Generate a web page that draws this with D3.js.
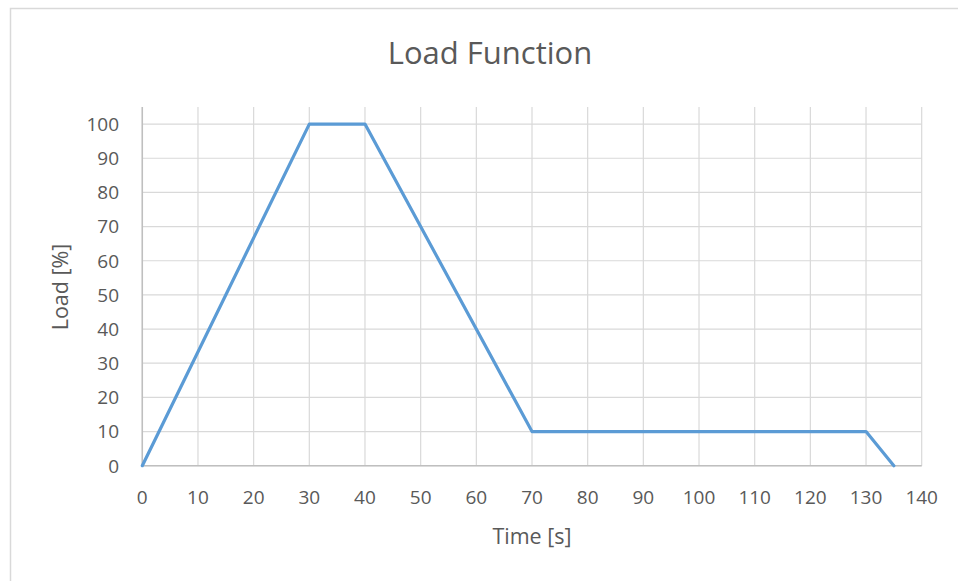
<!DOCTYPE html>
<html>
<head>
<meta charset="utf-8">
<script src="https://cdn.jsdelivr.net/npm/d3@7"></script>
<style>
  html, body { margin: 0; padding: 0; background: #fff; }
  svg text { font-family: "Open Sans", "Liberation Sans", sans-serif; fill: #595959; }
</style>
</head>
<body>
<svg id="chart" width="958" height="581"></svg>
<script>
const timeValues = [0, 30, 40, 70, 130, 135];
const loadValues = [0, 100, 100, 10, 10, 0];
const xTicks = [0, 10, 20, 30, 40, 50, 60, 70, 80, 90, 100, 110, 120, 130, 140];
const yTicks = [0, 10, 20, 30, 40, 50, 60, 70, 80, 90, 100];
const chartTitle = "Load Function";
const xTitle = "Time [s]";
const yTitle = "Load [%]";

const svg = d3.select("#chart");
svg.append("rect").attr("x", 10.5).attr("y", 8.5).attr("width", 1000).attr("height", 1000)
  .attr("fill", "#fff").attr("stroke", "#d9d9d9").attr("stroke-width", 1.5);

const x = d3.scaleLinear().domain([0, 140]).range([142.3, 921.7]);
const y = d3.scaleLinear().domain([0, 105]).range([465.7, 107]);

const g = svg.append("g");
g.selectAll(".vg").data(xTicks).enter().append("line")
  .attr("x1", d => x(d)).attr("x2", d => x(d))
  .attr("y1", y(0)).attr("y2", y(105))
  .attr("stroke", "#d9d9d9").attr("stroke-width", 1.2);
g.selectAll(".hg").data(yTicks).enter().append("line")
  .attr("x1", x(0)).attr("x2", x(140))
  .attr("y1", d => y(d)).attr("y2", d => y(d))
  .attr("stroke", "#d9d9d9").attr("stroke-width", 1.2);
g.append("line").attr("x1", x(0)).attr("x2", x(0)).attr("y1", y(0)).attr("y2", y(105))
  .attr("stroke", "#bfbfbf").attr("stroke-width", 1.5);
g.append("line").attr("x1", x(0)).attr("x2", x(140)).attr("y1", y(0)).attr("y2", y(0))
  .attr("stroke", "#bfbfbf").attr("stroke-width", 1.5);

g.selectAll(".yl").data(yTicks).enter().append("text")
  .attr("x", 119).attr("y", d => y(d)).attr("dy", "0.36em")
  .attr("text-anchor", "end").attr("font-size", 19).text(d => d);
g.selectAll(".xl").data(xTicks).enter().append("text")
  .attr("x", d => x(d)).attr("y", 497).attr("dy", "0.36em")
  .attr("text-anchor", "middle").attr("font-size", 19).text(d => d);

const line = d3.line().x((d, i) => x(timeValues[i])).y((d, i) => y(loadValues[i]));
g.append("path").datum(timeValues).attr("d", line)
  .attr("fill", "none").attr("stroke", "#5b9bd5").attr("stroke-width", 3.2)
  .attr("stroke-linejoin", "round").attr("stroke-linecap", "round");

svg.append("text").attr("x", 490).attr("y", 64).attr("text-anchor", "middle")
  .attr("font-size", 31).text(chartTitle);
svg.append("text").attr("x", 532).attr("y", 544).attr("text-anchor", "middle")
  .attr("font-size", 21.5).text(xTitle);
svg.append("text").attr("transform", "translate(68,287) rotate(-90)")
  .attr("text-anchor", "middle").attr("font-size", 21.5).text(yTitle);
</script>
</body>
</html>
